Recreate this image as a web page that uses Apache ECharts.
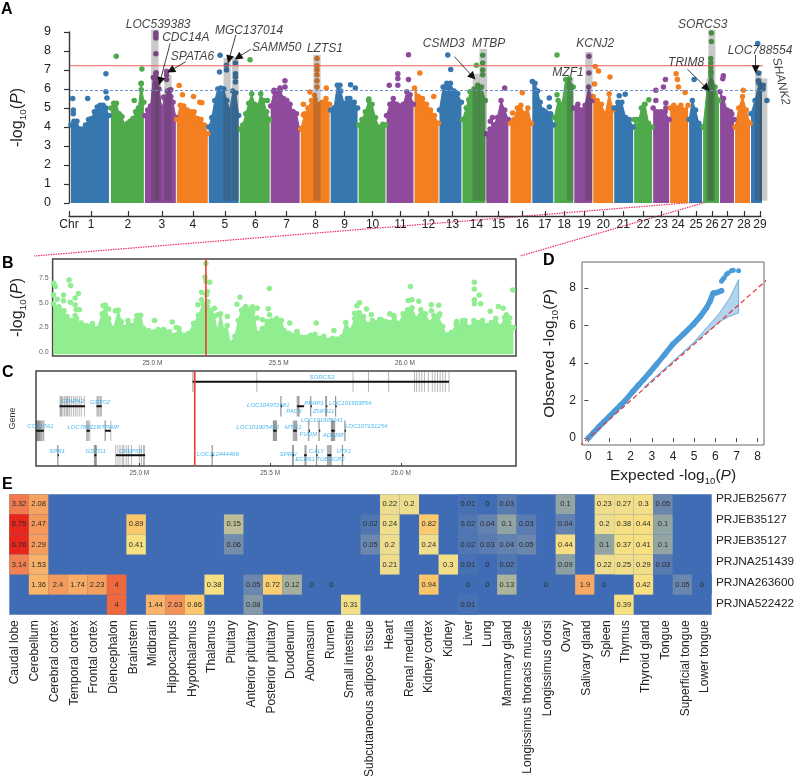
<!DOCTYPE html>
<html><head><meta charset="utf-8">
<style>html,body{margin:0;padding:0;background:#fff}#c{width:798px;height:776px}</style>
<script src="https://cdn.jsdelivr.net/npm/echarts@6/dist/echarts.min.js"></script>
</head><body><div id="c"></div>
<script>
const chrTicks=[22,59,93,124,156,186.5,218,247,276,304,332,360,384,408,430,454,476.5,496,516,535,555,575,593,610,628,644,659,676,692];
const chrStart=[2,42,76,108,140,171,202,232,262,290,318,346,371,394,418,442,464,486,506,525,546,566,585,602,621,635,652,667,683];
const chrEnd=[40,75,107,139,170,201,231,261,289,317,345,370,393,417,440,463,485,505,524,545,565,584,601,620,634,651,666,682,699];
const chrEnvelope=[
[4.1,4.3,4.3,3.9,3.9,4.1,4.4,4.45,4.8,5.05,5.15,5.15,5.0,4.6],
[5.0,5.25,5.25,4.7,4.55,4.1,4.2,4.3,4.45,4.8,5.0,6.3,5.3],
[4.6,4.9,5.1,6.6,6.85,6.0,5.0,5.5,5.9,5.95,5.3,4.5],
[4.4,5.15,5.1,4.9,4.8,4.8,4.45,4.4,4.1,3.65],
[4.0,4.5,5.4,6.0,6.05,6.0,5.4,4.9,5.9,5.8,4.6],
[3.9,4.1,4.7,5.25,5.75,5.2,5.1,5.75,5.4,4.8,4.4],
[5.1,5.85,5.9,5.95,5.5,5.4,5.2,4.8,4.7,3.9],
[3.9,4.6,5.0,5.4,5.45,5.2,5.3,5.5,5.2],
[4.9,5.0,6.2,5.9,5.25,5.5,5.3,5.3,5.0],
[4.1,4.4,4.8,5.4,5.2,4.5,4.0,3.9,4.1],
[4.6,5.2,5.5,5.2,5.1,5.2,5.85,5.7,5.2],
[6.05,5.6,5.5,5.2,4.9,4.6,4.2],
[4.9,6.1,6.3,6.3,5.9,5.75,5.3],
[4.4,5.0,5.85,6.0,6.2,6.1,5.4],
[3.65,3.9,4.1,4.5,5.4,4.9,4.4],
[4.2,4.4,5.0,5.15,4.7,5.0,4.2],
[6.4,6.3,5.9,5.3,4.9,4.8,4.7,4.7,4.1],
[4.5,5.4,5.2,6.5,6.55,6.1],
[5.0,5.2,4.9,5.15,6.1,5.4],
[5.6,5.4,5.2,4.7,5.75,4.9],
[5.0,5.3,5.3,4.5,4.4,4.0],
[4.4,4.1,5.0,5.2,4.2,4.0],
[5.0,4.8,4.8,4.8,4.4],
[5.0,5.15,5.0,5.15,4.9,5.15],
[4.4,5.4,4.9,4.2,4.0],
[4.0,6.0,6.85,6.1,5.4],
[5.85,5.5,4.9,4.8,4.4],
[4.0,5.0,5.6,4.9,4.2],
[4.7,5.4,6.3,6.0,5.4]];
const chrPeaks=[
[[3.7,5.5],[18.7,5.5],[37,6.8],[37,5.86],[38,5.53],[4.3,4.9],[4.3,4.7]],
[[47.3,7.72],[73,7.05],[65.3,5.4],[72.3,6.28],[72.3,5.96]],
[[87,8.95],[87,8.82],[87,8.68],[87,7.86],[87,6.8],[87,6.58],[88.7,6.3],[97.7,6.93],[97.7,6.75],[97.7,6.5],[94.7,5.58],[102,5.96],[102,5.6]],
[[110.3,6.18],[113.7,5.7],[124.7,5.6],[131,5.3],[133,5.28]],
[[151.3,7.77],[150.7,6.9],[157.7,7.25],[157.7,7.0],[166.7,7.37],[166.7,6.8],[166.7,6.63],[166.7,6.37]],
[[181.3,7.54],[198.7,5.4]],
[[216.3,6.44],[216.3,6.1],[211.3,6.05],[205.3,5.93]],
[[248.3,7.6],[248.3,7.23],[248.3,7.0],[248.3,6.75],[248.3,6.44],[248.3,6.1],[241.3,5.84],[245.7,5.67],[257.7,6.05],[234.7,5.2],[234.7,4.65],[236,4.7]],
[[282,6.23],[286.7,6.05],[271.3,6.2],[281.3,5.5]],
[[300.3,5.47],[314.3,4.15]],
[[320.7,6.2],[329.3,6.8],[329.3,6.55],[329.3,6.2],[340,7.8],[340,6.5]],
[[351.3,6.84],[365.3,5.6]],
[[379.3,7.79],[382.3,7.02]],
[[408,7.25],[414.3,7.77],[414.3,7.37],[414.3,7.0],[414.3,6.75],[400.3,5.44]],
[[436.3,6.05],[422,4.3],[424,4.5]],
[[454,5.8],[444.3,4.74]],
[[481,5.53],[481,5.05],[481,4.65]],
[[488.7,7.79],[488.7,5.7]],
[[520.7,7.72],[520.7,6.84]],
[[527,7.19],[530.3,6.95],[541.7,6.63],[526.3,6.26]],
[[551,5.65],[557,5.72]],
[[580.7,5.44],[576.3,5.18],[569.3,4.39]],
[[597.3,6.5],[595.3,6.1],[587.7,5.93],[587.7,5.4],[597.7,5.26],[597.7,5.0]],
[[608,6.8],[609.3,6.5],[610.3,6.1],[617,5.82]],
[[626,6.5]],
[[643.3,8.95],[643.3,8.5],[642.7,7.6],[642.7,7.37],[642.7,7.14],[642.7,6.93],[642.7,6.7]],
[[655.3,6.7],[654.7,6.54],[663.7,4.68]],
[[675.3,5.93]],
[[689.7,8.39],[690.7,6.84],[690.3,6.44],[695.3,6.2]]];
const chrColors=['#3577AE','#4EAA4B','#8E4A9B','#F47F20'];
const thresholdHigh=7.22, thresholdLow=5.92;
// highlighted loci: [from, to, top]
const highlightFrom=[82.3,86.3,95.3,154.7,163,244.7,404.3,411,498.7,517,638.3,640.3,687,692];
const highlightTo=[89.7,92,102.7,162,170,252,411.3,418.7,505.3,524.3,645.3,647.3,693.7,699.3];
const highlightTop=[9.12,6.3,6.75,7.63,7.67,7.8,6.8,8.1,6.58,7.95,6.58,9.12,6.93,6.56];
const geneNamesA=['LOC539383','CDC14A','SPATA6','MGC137014','SAMM50','LZTS1','CSMD3','MTBP','MZF1','KCNJ2','TRIM8','SORCS3','LOC788554','SHANK2'];
const geneLabelX=[89.3,117,123.7,180.3,208,256.3,375.3,420.3,499.7,527,618,634.7,692,713];
const geneLabelY=[9.4,8.68,7.7,9.07,8.2,8.1,8.4,8.4,6.86,8.4,7.38,9.4,8.0,6.4];
const arrowsA=[[[101.3,8.4],[91.3,6.42]],[[117,7.44],[102,6.97]],[[167,8.84],[160.3,7.56]],[[182,8.09],[169.3,7.67]],[[386,7.7],[404.3,6.65]],[[619.3,7.04],[638.7,6.04]],[[687.7,7.79],[687.7,7.04]],[[712,6.39],[698.7,5.92]]];

// Panel B
const regionFrom=24.605, regionTo=26.44, leadSnp=25.212;
const regionTicks=[25.0,25.5,26.0];
const regionEnvX=[24.608,24.63,24.65,24.662,24.681,24.7,24.719,24.738,24.763,24.782,24.801,24.814,24.827,24.846,24.865,24.877,24.89,24.903,24.916,24.935,24.954,24.966,24.985,25.023,25.049,25.068,25.087,25.106,25.125,25.144,25.163,25.182,25.201,25.22,25.232,25.245,25.258,25.27,25.283,25.296,25.308,25.327,25.34,25.353,25.365,25.381,25.397,25.416,25.435,25.454,25.473,25.492,25.511,25.522,25.54,25.557,25.574,25.592,25.609,25.627,25.644,25.662,25.679,25.697,25.714,25.731,25.749,25.766,25.784,25.801,25.819,25.836,25.854,25.871,25.889,25.906,25.923,25.941,25.958,25.976,25.993,26.011,26.028,26.046,26.063,26.081,26.098,26.115,26.133,26.15,26.168,26.185,26.203,26.22,26.238,26.255,26.273,26.29,26.307,26.325,26.342,26.36,26.377,26.395,26.412,26.43];
const regionEnvY=[4.9,4.6,4.2,3.6,3.2,3.4,2.95,2.7,2.9,2.4,3.9,4.76,3.4,2.4,4.25,3.1,2.5,3.2,2.7,3.2,3.75,2.4,2.2,2.3,2.2,2.05,1.7,2.4,1.7,1.9,2.9,3.75,4.9,5.1,4.2,3.6,2.2,3.9,2.2,2.7,0.9,1.6,3.2,4.25,4.4,3.9,4.6,1.9,2.4,3.1,3.2,3.4,3.2,2.2,1.9,1.7,2.0,1.5,1.5,1.7,1.8,1.4,1.6,1.2,1.4,1.3,1.5,3.0,2.2,3.4,4.0,3.6,2.8,3.2,3.0,3.3,3.1,3.0,3.6,2.9,3.9,4.3,4.5,3.4,4.3,3.9,3.0,3.7,3.6,2.6,1.5,2.0,2.8,2.7,3.2,2.5,3.2,3.0,3.2,2.7,3.0,3.4,2.6,3.5,3.0,2.5];
const regionPeaks=[[24.61,7.0],[24.616,6.65],[24.67,7.33],[24.676,6.76],[24.648,5.8],[24.707,5.95],[24.694,5.5],[24.609,5.8],[24.623,5.37],[24.648,5.2],[24.675,5.07],[24.694,4.8],[24.711,4.3],[24.698,4.3],[24.694,3.7],[24.805,4.7],[24.827,4.36],[24.853,4.2],[24.939,3.7],[25.009,3.2],[25.079,3.04],[25.043,2.3],[25.094,2.5],[25.212,9.0],[25.208,7.6],[25.227,7.1],[25.212,7.16],[25.195,6.08],[25.218,6.15],[25.214,5.8],[25.195,5.3],[25.18,4.8],[25.246,4.46],[25.259,3.8],[25.241,3.68],[25.297,3.6],[25.335,4.86],[25.347,5.57],[25.369,4.63],[25.379,4.36],[25.398,4.12],[25.415,4.46],[25.463,6.45],[25.459,4.4],[25.464,3.8],[25.415,3.45],[25.436,3.28],[25.489,3.1],[25.544,2.94],[25.572,2.1],[25.649,2.94],[25.719,2.2],[25.778,2.1],[25.82,5.0],[25.81,4.7],[25.801,3.95],[25.848,4.36],[25.867,3.8],[25.9,3.3],[25.94,3.9],[25.955,3.7],[26.022,6.65],[26.013,5.24],[26.028,5.3],[26.055,5.17],[26.104,4.8],[26.134,4.76],[26.105,4.2],[26.138,3.9],[26.171,1.76],[26.275,7.1],[26.275,6.4],[26.294,5.8],[26.275,5.3],[26.275,4.9],[26.3,4.9],[26.338,4.15],[26.37,4.63],[26.389,4.46],[26.402,3.8],[26.415,3.45],[26.427,6.3],[26.228,3.18],[26.205,3.1],[26.228,2.26]];

// Panel C
const geneNames=['SORCS3','CFAP43','GSTO2','LOC104972681','PACX','PRAP1','ZNF511','LOC101903854','COL17A1','LOC788216','ITPRIP','LOC101905453','MTG1','FUOM','LOC101905041','ADAM8','LOC107131254','SPR1','GSTO1','CFSP58','LOC112444466','SPRN','ECHS1','CALY','TUBGCP2','UTF1'];
const geneRow=[1,2,2,2,2,2,2,2,3,3,3,3,3,3,3,3,3,4,4,4,4,4,4,4,4,4];
const geneStart=[25.204,24.695,24.836,25.541,25.603,25.655,25.714,25.75,24.606,24.798,24.869,25.512,25.588,25.648,25.687,25.734,25.785,24.688,24.828,24.91,25.278,25.586,25.63,25.677,25.719,25.776];
const geneEnd=[26.184,24.792,24.856,25.542,25.63,25.656,25.715,25.751,24.635,24.811,24.891,25.525,25.602,25.649,25.688,25.747,25.786,24.689,24.836,25.022,25.279,25.587,25.64,25.678,25.734,25.777];
const geneExons=[
[25.204,25.209,25.449,25.817,25.876,25.953,26.052,26.06,26.07,26.08,26.09,26.105,26.12,26.13,26.14,26.15,26.16,26.17,26.184],
[24.697,24.7,24.703,24.708,24.714,24.72,24.724,24.727,24.733,24.74,24.748,24.755,24.762,24.77,24.778,24.79],
[24.838,24.842,24.846,24.851,24.855],[25.541,25.5415],[25.603,25.606,25.609,25.611],[25.654,25.656],[25.712,25.714,25.716],[25.75,25.751],
[24.606,24.609,24.611,24.613,24.615,24.617,24.619,24.622,24.625,24.628,24.632,24.635],[24.798,24.802,24.806,24.811],[24.869,24.87,24.891],
[25.512,25.514,25.516,25.518,25.521,25.523,25.525],[25.588,25.591,25.594,25.597,25.6,25.602],[25.646,25.649],[25.686,25.688],[25.734,25.736,25.738,25.74,25.742,25.745,25.747],[25.785,25.787],
[24.688,24.689],[24.828,24.83,24.832,24.834,24.836],[24.91,24.918,24.926,24.935,24.94,24.95,24.958,24.97,25.0,25.008,25.016,25.02],[25.278,25.279],[25.586,25.587,25.589],[25.633,25.635,25.638],[25.677,25.678],[25.719,25.722,25.725,25.728,25.731,25.734],[25.776,25.777]];
const geneTextX=[25.698,24.745,24.85,25.493,25.592,25.668,25.705,25.806,24.622,24.787,24.885,25.452,25.588,25.646,25.698,25.741,25.867,24.686,24.833,24.966,25.3,25.569,25.634,25.678,25.731,25.782];
const geneTextRow=[0.82,1.815,1.856,1.98,2.22,1.883,2.197,1.883,2.81,2.88,2.88,2.88,2.85,3.14,2.59,3.19,2.82,3.86,3.85,3.83,3.97,3.97,4.15,3.85,4.15,3.83];

// Panel D
const qqExpected=[0,0.25,0.5,0.75,1.02,1.25,1.5,1.75,2.1,2.35,2.6,2.9,3.22,3.6,4.0,4.5,4.95,5.3,5.58,5.75,5.9,6.05,6.29];
const qqObserved=[0,0.3,0.6,0.88,1.18,1.45,1.72,2.0,2.48,2.8,3.11,3.5,3.93,4.45,5.02,5.55,6.05,6.5,6.94,7.3,7.74,7.75,7.86];
const qqTail=[[6.29,8.36],[6.35,8.46],[6.42,8.55],[6.52,8.72],[6.6,8.8],[6.76,8.93],[6.85,8.95],[7.1,8.93]];
const bandExpected=[2.6,4.95,5.58,6.2,6.68,7.1];
const bandUpper=[2.67,5.07,5.87,6.67,7.47,8.45];
const bandLower=[2.67,5.02,5.62,6.2,6.5,6.67];
const diagonal=[[-1,-1],[9,9]];

// Panel E
const tissues=['Caudal lobe','Cerebellum','Cerebral cortex','Temporal cortex','Frontal cortex','Diencephalon','Brainstem','Midbrain','Hippocampus','Hypothalamus','Thalamus','Pituitary','Anterior pituitary','Posterior pituitary','Duodenum','Abomasum','Rumen','Small intestine','Subcutaneous adipose tissue','Heart','Renal medulla','Kidney cortex','Kidney','Liver','Lung','Mammary gland','Longissimus thoracis muscle','Longissimus dorsi','Ovary','Salivary gland','Spleen','Thymus','Thyroid gland','Tongue','Superficial tongue','Lower tongue'];
const studies=['PRJEB25677','PRJEB35127','PRJEB35127','PRJNA251439','PRJNA263600','PRJNA522422'];
const N=null;
const row0=[3.32,2.08,N,N,N,N,N,N,N,N,N,N,N,N,N,N,N,N,N,0.22,0.2,N,N,0.01,0,0.03,N,N,0.1,N,0.23,0.27,0.3,0.05,N,N];
const row1=[6.75,2.47,N,N,N,N,0.89,N,N,N,N,0.15,N,N,N,N,N,N,0.02,0.24,N,0.82,N,0.02,0.04,0.1,0.03,N,0.04,N,0.2,0.38,0.44,0.1,N,N];
const row2=[6.76,2.29,N,N,N,N,0.41,N,N,N,N,0.06,N,N,N,N,N,N,0.05,0.2,N,0.24,N,0.02,0.03,0.04,0.05,N,0.44,N,0.1,0.37,0.41,0.1,N,N];
const row3=[3.14,1.53,N,N,N,N,N,N,N,N,N,N,N,N,N,N,N,N,N,0.21,N,N,0.3,0.01,0,0.02,N,N,0.09,N,0.22,0.25,0.29,0.03,N,N];
const row4=[N,1.36,2.4,1.74,2.23,4,N,N,N,N,0.38,N,0.05,0.72,0.12,0,0,N,N,N,N,0.94,N,0,0,0.13,N,0,N,1.9,0,N,0.42,N,0.05,0];
const row5=[N,N,N,N,N,4,N,1.44,2.63,0.86,N,N,0.08,N,N,N,N,0.31,N,N,N,N,N,0.01,N,N,N,N,N,N,N,0.39,N,N,N,N];
const heatStops=[[0,'#3F6CB5'],[0.05,'#6C87AE'],[0.1,'#93A5A3'],[0.15,'#BDBE98'],[0.2,'#EDDD8E'],[0.4,'#F8E082'],[0.9,'#FBC66B'],[1.4,'#F9B56B'],[2.4,'#F49A5C'],[3.3,'#EF7B50'],[4,'#EE6A3E'],[6.75,'#E8261C']];

const FONT='"Liberation Sans",Arial,sans-serif';
function hex(c){return [1,3,5].map(i=>parseInt(c.substr(i,2),16));}
function heatColor(v){
  for(let i=1;i<heatStops.length;i++){
    if(v<=heatStops[i][0]){
      const a=heatStops[i-1],b=heatStops[i],t=(v-a[0])/(b[0]-a[0]);
      const A=hex(a[1]),B=hex(b[1]);
      return 'rgb('+A.map((x,k)=>Math.round(x+(B[k]-x)*t)).join(',')+')';
    }
  }
  return heatStops[heatStops.length-1][1];
}
const logName=(pre,size)=>({name:pre+'-log{s|10}({i|P})',nameTextStyle:{fontSize:size,color:'#222',fontFamily:FONT,lineHeight:20,
  rich:{s:{fontSize:size*0.62,fontFamily:FONT,color:'#222',verticalAlign:'bottom',lineHeight:20,padding:[7,0,0,0]},i:{fontSize:size,fontStyle:'italic',fontFamily:FONT,color:'#222',lineHeight:20}}}});

const series=[];
// --- A
chrEnvelope.forEach((env,c)=>{
  const col=chrColors[c%4],s=chrStart[c],e=chrEnd[c];
  series.push({type:'line',xAxisIndex:0,yAxisIndex:0,clip:false,silent:true,animation:false,z:2,
    data:env.map((v,i)=>[s+(e-s)*i/(env.length-1),v]),
    symbol:'circle',symbolSize:5.5,showSymbol:true,showAllSymbol:true,
    lineStyle:{color:col,width:1},itemStyle:{color:col},areaStyle:{color:col,opacity:1,origin:'start'}});
  series.push({type:'scatter',xAxisIndex:0,yAxisIndex:0,clip:false,silent:true,animation:false,z:2,
    data:chrPeaks[c],symbolSize:5.5,itemStyle:{color:col,opacity:1}});
});
series.push({type:'custom',xAxisIndex:0,yAxisIndex:0,z:3,silent:true,animation:false,clip:false,
  data:highlightFrom.map((f,i)=>[f,highlightTo[i],highlightTop[i]]),
  encode:{x:[0,1],y:2},
  renderItem(p,api){const a=api.coord([api.value(0),api.value(2)]),b=api.coord([api.value(1),0.12]);
    return {type:'rect',shape:{x:a[0],y:a[1],width:b[0]-a[0],height:b[1]-a[1]},style:{fill:'rgba(60,60,60,0.28)'}};}});
series.push({type:'line',xAxisIndex:0,yAxisIndex:0,clip:false,silent:true,animation:false,z:4,symbol:'none',
  data:[[1,thresholdHigh],[695,thresholdHigh]],lineStyle:{color:'#F0605A',width:1.1}});
series.push({type:'line',xAxisIndex:0,yAxisIndex:0,clip:false,silent:true,animation:false,z:4,symbol:'none',
  data:[[1,thresholdLow],[695,thresholdLow]],lineStyle:{color:'#6F92CC',width:1.1,type:[3,2]}});
series.push({type:'scatter',xAxisIndex:0,yAxisIndex:0,clip:false,silent:true,animation:false,z:6,symbolSize:0,
  data:geneNamesA.map((n,i)=>({value:[geneLabelX[i],geneLabelY[i]],name:n,label:n==='SHANK2'?{rotate:-78}:{}})),
  label:{show:true,position:'inside',formatter:'{b}',fontStyle:'italic',fontSize:12,color:'#111',fontFamily:FONT},
  markLine:{silent:true,animation:false,clip:false,symbol:['none','triangle'],symbolSize:8,label:{show:false},
    lineStyle:{color:'#111',width:0.8,type:'solid'},itemStyle:{color:'#111'},
    data:arrowsA.map(a=>[{coord:a[0]},{coord:a[1]}])}});
// --- B
series.push({type:'line',xAxisIndex:1,yAxisIndex:1,silent:true,animation:false,z:2,
  data:regionEnvY.map((v,i)=>[regionEnvX[i],v]),
  symbol:'circle',symbolSize:5.5,showSymbol:true,showAllSymbol:true,
  lineStyle:{color:'#90EE90',width:1},itemStyle:{color:'#90EE90'},areaStyle:{color:'#90EE90',opacity:1,origin:-0.22}});
series.push({type:'scatter',xAxisIndex:1,yAxisIndex:1,silent:true,animation:false,z:2,data:regionPeaks,symbolSize:5.5,itemStyle:{color:'#90EE90',opacity:1}});
series.push({type:'line',xAxisIndex:1,yAxisIndex:1,silent:true,animation:false,z:4,symbol:'none',
  data:[[leadSnp,-0.4],[leadSnp,9.45]],lineStyle:{color:'#EE3B33',width:1.6}});
// --- C
series.push({type:'custom',xAxisIndex:2,yAxisIndex:2,silent:true,animation:false,z:2,
  data:geneExons.flatMap((ex,g)=>ex.map(x=>[x,geneRow[g]])),encode:{x:0,y:1},
  renderItem(p,api){const a=api.coord([api.value(0),api.value(1)-0.42]),b=api.coord([api.value(0),api.value(1)+0.42]);
    return {type:'rect',shape:{x:a[0]-0.5,y:a[1],width:1,height:b[1]-a[1]},style:{fill:'rgba(40,40,40,0.33)'}};}});
series.push({type:'custom',xAxisIndex:2,yAxisIndex:2,silent:true,animation:false,z:3,
  data:geneNames.map((n,g)=>[geneStart[g],geneEnd[g],geneRow[g]]),encode:{x:[0,1],y:2},
  renderItem(p,api){const a=api.coord([api.value(0),api.value(2)]),b=api.coord([api.value(1),api.value(2)]);
    return {type:'rect',shape:{x:a[0],y:a[1]-1,width:Math.max(b[0]-a[0],1.2),height:2},style:{fill:'#111'}};}});
series.push({type:'scatter',xAxisIndex:2,yAxisIndex:2,silent:true,animation:false,z:5,symbolSize:0,
  data:geneNames.map((n,g)=>({value:[geneTextX[g],geneTextRow[g]],name:n})),
  label:{show:true,position:'inside',formatter:'{b}',fontStyle:'italic',fontSize:6,color:'#1CA7EC',fontFamily:FONT}});
series.push({type:'line',xAxisIndex:2,yAxisIndex:2,silent:true,animation:false,z:4,symbol:'none',
  data:[[leadSnp,0.56],[leadSnp,4.44]],lineStyle:{color:'#EE3B33',width:1.6}});
// --- D
series.push({type:'custom',xAxisIndex:3,yAxisIndex:3,silent:true,animation:false,z:2,
  data:bandExpected.map((x,i)=>[x,bandLower[i],bandUpper[i]]),encode:{x:0,y:[1,2]},
  renderItem(p,api){
    if(p.dataIndex!==0) return;
    const pts=[];
    bandExpected.forEach((x,i)=>pts.push(api.coord([x,bandUpper[i]])));
    for(let i=bandExpected.length-1;i>=0;i--) pts.push(api.coord([bandExpected[i],bandLower[i]]));
    return {type:'polygon',shape:{points:pts},style:{fill:'rgba(74,152,211,0.42)',stroke:'#4A98D3',lineWidth:0.7}};}});
series.push({type:'line',xAxisIndex:3,yAxisIndex:3,silent:true,animation:false,z:3,smooth:false,
  data:qqExpected.map((x,i)=>[x,qqObserved[i]]),symbol:'circle',symbolSize:5.5,showSymbol:true,showAllSymbol:true,
  lineStyle:{color:'#4A9BD8',width:5.5,cap:'round'},itemStyle:{color:'#4A9BD8'}});
series.push({type:'scatter',xAxisIndex:3,yAxisIndex:3,silent:true,animation:false,z:3,data:qqTail,symbolSize:5,itemStyle:{color:'#4A9BD8',opacity:1}});
series.push({type:'line',xAxisIndex:3,yAxisIndex:3,silent:true,animation:false,z:4,symbol:'none',clip:true,
  data:diagonal,lineStyle:{color:'#E8343A',width:1.2,type:[5,3]}});
// --- E
const heatRows=[row0,row1,row2,row3,row4,row5];
const heatData=[];
heatRows.forEach((r,y)=>r.forEach((v,x)=>{if(v!==null) heatData.push([x,y,v]);}));
series.push({type:'custom',xAxisIndex:4,yAxisIndex:4,silent:true,animation:false,z:2,data:heatData,encode:{x:0,y:1},
  renderItem(p,api){const v=api.value(2),pt=api.coord([api.value(0),api.value(1)]),s=api.size([1,1]);
    return {type:'rect',shape:{x:pt[0]-s[0]/2,y:pt[1]-s[1]/2,width:s[0],height:s[1]},style:{fill:heatColor(v)},
      textContent:{type:'text',style:{text:String(v),fontSize:7.5,fill:'#2b2b2b',fontFamily:FONT}},textConfig:{position:'inside'}};}});

const hiddenVal=(g,extra)=>Object.assign({type:'value',gridIndex:g,show:false,min:0,max:1},extra||{});
const option={
  backgroundColor:'#fff',animation:false,
  textStyle:{fontFamily:FONT},
  grid:[
    {left:68,top:32,width:693,height:171},
    {left:33,top:259,width:483,height:97,show:true,borderColor:'#444',borderWidth:1.5,backgroundColor:'#fff'},
    {left:33,top:371,width:483,height:95,show:true,borderColor:'#444',borderWidth:1.5,backgroundColor:'#fff'},
    {left:582,top:262,width:182,height:183,show:true,borderColor:'#666',borderWidth:1,backgroundColor:'#fff'},
    {left:9.3,top:494.3,width:702.4,height:120.4,show:true,borderWidth:0,backgroundColor:'#3F6CB5'},
    {left:712,top:488.5,width:1,height:126},
    {left:5.2,top:616,width:709.6,height:1}
  ],
  xAxis:[
    {type:'value',gridIndex:0,min:0,max:693,offset:13,splitLine:{show:false},
      axisLine:{onZero:false,lineStyle:{color:'#333',width:1.4}},
      axisTick:{inside:true,length:5,customValues:[0].concat(chrTicks),lineStyle:{color:'#333',width:1.2}},
      axisLabel:{customValues:[0].concat(chrTicks),fontSize:12,color:'#222',margin:3,
        formatter:v=>{if(v===0)return 'Chr';const i=chrTicks.indexOf(v);return i>=0?String(i+1):'';}}},
    {type:'value',gridIndex:1,min:regionFrom,max:regionTo,splitLine:{show:false},axisLine:{show:false},
      axisTick:{inside:true,length:3,customValues:regionTicks,lineStyle:{color:'#444'}},
      axisLabel:{customValues:regionTicks,fontSize:6.5,color:'#555',margin:4,formatter:v=>v.toFixed(1)+' M'}},
    {type:'value',gridIndex:2,min:regionFrom,max:regionTo,splitLine:{show:false},axisLine:{show:false},
      axisTick:{inside:true,length:3,customValues:regionTicks,lineStyle:{color:'#444'}},
      axisLabel:{customValues:regionTicks,fontSize:6.5,color:'#555',margin:4,formatter:v=>v.toFixed(1)+' M'}},
    Object.assign({type:'value',gridIndex:3,min:-0.3,max:8.3,splitLine:{show:false},axisLine:{show:false},
      axisTick:{length:4,customValues:[0,1,2,3,4,5,6,7,8],lineStyle:{color:'#444'}},
      axisLabel:{customValues:[0,1,2,3,4,5,6,7,8],fontSize:12,color:'#222',margin:6},
      nameLocation:'middle',nameGap:21},logName('Expected ',15.5)),
    {type:'category',gridIndex:4,data:tissues,show:false},
    {type:'value',gridIndex:5,show:false},
    {type:'category',gridIndex:6,data:tissues,axisLine:{show:false},axisTick:{show:false},
      axisLabel:{interval:0,rotate:90,fontSize:12,color:'#222',margin:4}}
  ],
  yAxis:[
    Object.assign({type:'value',gridIndex:0,min:0,max:9,interval:1,offset:7,splitLine:{show:false},
      axisLine:{show:true,lineStyle:{color:'#333',width:1.4}},
      axisTick:{show:true,length:5,lineStyle:{color:'#333',width:1.2}},
      axisLabel:{fontSize:12.5,color:'#222',margin:11},nameLocation:'middle',nameGap:34},logName('',16)),
    Object.assign({type:'value',gridIndex:1,min:-0.4,max:9.45,splitLine:{show:false},axisLine:{show:false},
      axisTick:{show:false},
      axisLabel:{customValues:[0,2.5,5,7.5],fontSize:7,color:'#666',margin:4,formatter:v=>v.toFixed(1)},
      nameLocation:'middle',nameGap:21},logName('',16)),
    {type:'value',gridIndex:2,min:0.56,max:4.44,inverse:true,splitLine:{show:false},axisLine:{show:false},axisTick:{show:false},
      axisLabel:{show:false},name:'Gene',nameLocation:'middle',nameGap:19,nameTextStyle:{fontSize:9,color:'#333'}},
    Object.assign({type:'value',gridIndex:3,min:-0.37,max:9.39,splitLine:{show:false},axisLine:{show:false},
      axisTick:{show:true,length:4,customValues:[0,2,4,6,8],lineStyle:{color:'#444'}},
      axisLabel:{customValues:[0,2,4,6,8],fontSize:12,color:'#222',margin:6},
      nameLocation:'middle',nameGap:22},logName('Observed ',15.5)),
    {type:'category',gridIndex:4,data:studies,inverse:true,show:false},
    {type:'category',gridIndex:5,data:studies,inverse:true,position:'right',axisLine:{show:false},axisTick:{show:false},
      axisLabel:{interval:0,fontSize:11.8,color:'#222',margin:3}},
    hiddenVal(6)
  ],
  graphic:[
    {type:'line',silent:true,shape:{x1:710,y1:201,x2:34,y2:256},style:{stroke:'#EE2F5C',lineWidth:1.2,lineDash:[1.5,1]}},
    {type:'line',silent:true,shape:{x1:710,y1:201,x2:520,y2:256},style:{stroke:'#EE2F5C',lineWidth:1.2,lineDash:[1.5,1]}},
    ...[['A',1,2],['B',2,256],['C',2,365],['D',543,253],['E',2,477]].map(a=>({type:'text',silent:true,x:a[1],y:a[2],
      style:{text:a[0],fontSize:16,fontWeight:'bold',fill:'#000',fontFamily:FONT}}))
  ],
  series
};
echarts.init(document.getElementById('c'),null,{renderer:'canvas'}).setOption(option);
</script></body></html>
